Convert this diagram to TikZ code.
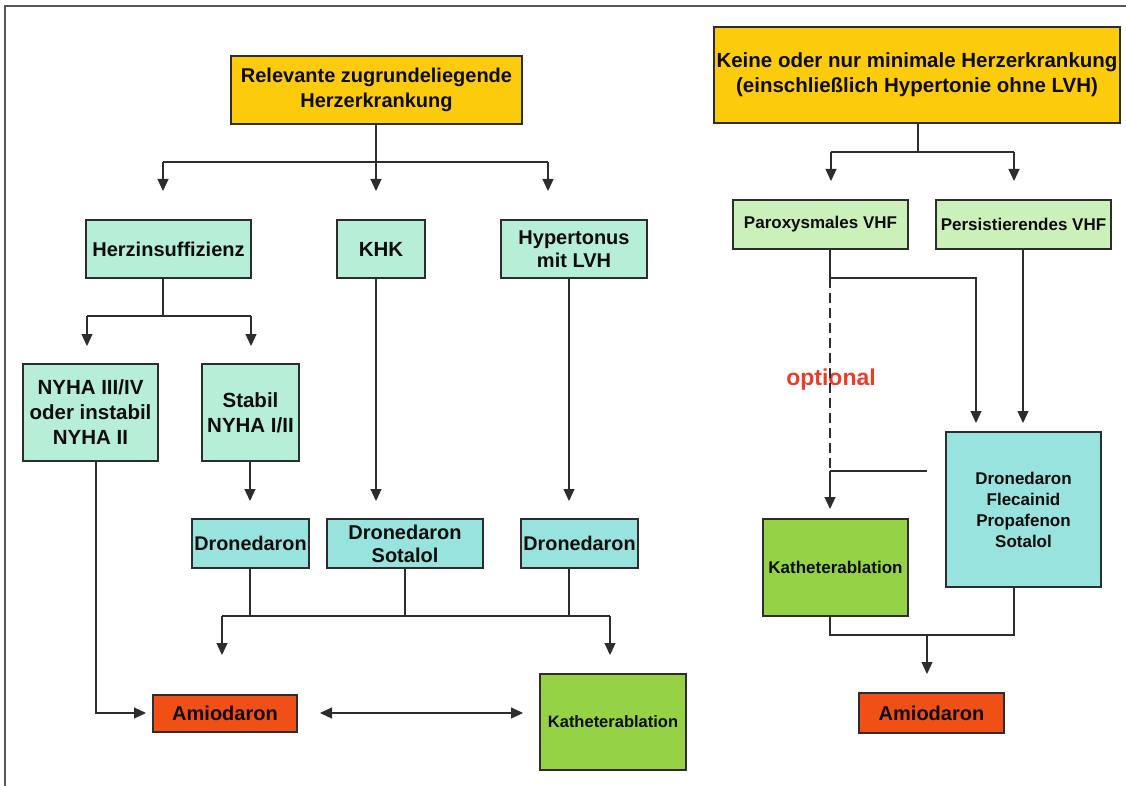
\documentclass[tikz,border=0pt]{standalone}
\usepackage{fontspec}
\setmainfont{Liberation Sans}
\usetikzlibrary{arrows.meta}
\definecolor{cYellow}{RGB}{252,204,12}
\definecolor{cMint}{RGB}{183,238,216}
\definecolor{cLGreen}{RGB}{204,240,186}
\definecolor{cTurq}{RGB}{152,227,222}
\definecolor{cGreen}{RGB}{150,210,70}
\definecolor{cOrange}{RGB}{240,80,22}
\definecolor{cRed}{RGB}{235,60,40}
\definecolor{cLine}{RGB}{45,45,45}
\newcommand{\fs}[2]{\fontsize{#1}{#2}\selectfont\bfseries}
\tikzset{
  box/.style={draw=cLine, line width=1.3pt, rectangle, inner sep=0pt, align=center, text=black!95},
  ln/.style={draw=cLine, line width=1.2pt},
  tip/.style={Triangle[width=11pt,length=12pt]},
  arr/.style={ln, -{Triangle[width=11pt,length=12pt]}},
  darr/.style={ln, {Triangle[width=11pt,length=12pt]}-{Triangle[width=11pt,length=12pt]}},
}
\begin{document}
\begin{tikzpicture}[x=1pt,y=-1pt]
\useasboundingbox (0,0) rectangle (1126,786);
\fill[white] (0,0) rectangle (1126,786);
% frame
\draw[cLine!80, line width=1.2pt] (5,786) -- (5,6) -- (1126,6);

% ---------- nodes ----------
\node[box, fill=cYellow, minimum width=291, minimum height=68, font=\fs{20}{25}] (top1) at (376.5,90) {Relevante zugrundeliegende\\Herzerkrankung};
\node[box, fill=cYellow, minimum width=406, minimum height=96, font=\fs{20.5}{25}] (top2) at (917,75) {Keine oder nur minimale Herzerkrankung\\(einschließlich Hypertonie ohne LVH)};

\node[box, fill=cMint, minimum width=165, minimum height=58, font=\fs{20}{24}] (herz) at (168.5,249) {Herzinsuffizienz};
\node[box, fill=cMint, minimum width=88, minimum height=58, font=\fs{20.5}{24}] (khk) at (381,249) {KHK};
\node[box, fill=cMint, minimum width=146, minimum height=58, font=\fs{20}{23}] (hyper) at (574,249) {Hypertonus\\mit LVH};

\node[box, fill=cMint, minimum width=135, minimum height=97, font=\fs{20.5}{25}] (nyha) at (90.5,412.5) {NYHA III/IV\\oder instabil\\NYHA II};
\node[box, fill=cMint, minimum width=97, minimum height=97, font=\fs{20.5}{25}] (stabil) at (250.5,412.5) {Stabil\\NYHA I/II};

\node[box, fill=cTurq, minimum width=117, minimum height=49, font=\fs{19.8}{23}] (dron1) at (250.5,543.5) {Dronedaron};
\node[box, fill=cTurq, minimum width=156, minimum height=49, font=\fs{20}{23}] (dronsot) at (405,543.5) {Dronedaron\\Sotalol};
\node[box, fill=cTurq, minimum width=117, minimum height=49, font=\fs{19.8}{23}] (dron2) at (579.5,543.5) {Dronedaron};

\node[box, fill=cOrange, minimum width=144, minimum height=37, font=\fs{20}{23}] (amio1) at (225,713.5) {Amiodaron};
\node[box, fill=cGreen, minimum width=146, minimum height=96, font=\fs{16.5}{20}] (kath1) at (613,722) {Katheterablation};

\node[box, fill=cLGreen, minimum width=175, minimum height=49, font=\fs{17}{20}] (parox) at (820.5,224.5) {Paroxysmales VHF};
\node[box, fill=cLGreen, minimum width=175, minimum height=49, font=\fs{17}{20}] (pers) at (1023.5,224.5) {Persistierendes VHF};

\node[box, fill=cTurq, minimum width=155, minimum height=155, font=\fs{17}{21}] (drugs) at (1023.5,509.5) {Dronedaron\\Flecainid\\Propafenon\\Sotalol};
\node[box, fill=cGreen, minimum width=145, minimum height=97, font=\fs{17}{20}] (kath2) at (835.5,567.5) {Katheterablation};
\node[box, fill=cOrange, minimum width=145, minimum height=40, font=\fs{20}{23}] (amio2) at (931.5,713) {Amiodaron};

\node[text=cRed, font=\fs{23}{26}, inner sep=0pt] (opt) at (831,380) {optional};

% ---------- coordinates ----------
\coordinate (j1) at (376,162);
\coordinate (j1l) at (163,162);
\coordinate (j1r) at (548,162);
\coordinate (a1l) at (163,191);
\coordinate (a1m) at (376,191);
\coordinate (a1r) at (548,191);

\coordinate (j2) at (163,316);
\coordinate (j2l) at (87,316);
\coordinate (j2r) at (251,316);
\coordinate (a2l) at (87,346);
\coordinate (a2r) at (251,346);

\coordinate (akhk) at (376,501);
\coordinate (ahyp) at (569,501);
\coordinate (astab) at (250,501);

\coordinate (nyc) at (96,713);
\coordinate (anyha) at (146,713);

\coordinate (j3l) at (222,616);
\coordinate (j3m) at (250,616);
\coordinate (j3r) at (610,616);
\coordinate (a3l) at (222,655);
\coordinate (a3r) at (610,655);

\coordinate (dal) at (320,713);
\coordinate (dar) at (523,713);

\coordinate (r1) at (918,152);
\coordinate (r1l) at (831,152);
\coordinate (r1r) at (1014,152);
\coordinate (ar1l) at (831,181);
\coordinate (ar1r) at (1014,181);

\coordinate (p1) at (830,278);
\coordinate (p1r) at (976,278);
\coordinate (ap1) at (976,423);
\coordinate (aper) at (1023,423);
\coordinate (p2) at (830,471);
\coordinate (p2r) at (927,471);
\coordinate (ap2) at (830,509);

\coordinate (k1) at (830,635);
\coordinate (k1m) at (927,635);
\coordinate (k1r) at (1014,635);
\coordinate (ak1) at (927,674);

% ---------- connectors left ----------
\draw[ln] (top1.south -| j1) -- (j1);
\draw[ln] (j1l) -- (j1r);
\draw[arr] (j1l) -- (a1l);
\draw[arr] (j1) -- (a1m);
\draw[arr] (j1r) -- (a1r);

\draw[ln] (herz.south -| j2) -- (j2);
\draw[ln] (j2l) -- (j2r);
\draw[arr] (j2l) -- (a2l);
\draw[arr] (j2r) -- (a2r);

\draw[arr] (khk.south -| akhk) -- (akhk);
\draw[arr] (hyper.south -| ahyp) -- (ahyp);
\draw[arr] (stabil.south -| astab) -- (astab);

\draw[arr] (nyha.south -| nyc) -- (nyc) -- (anyha);

\draw[ln] (dron1.south -| j3m) -- (j3m);
\draw[ln] (dronsot.south) -- (dronsot.south |- j3l);
\draw[ln] (dron2.south -| ahyp) -- (ahyp |- j3l);
\draw[ln] (j3l) -- (j3r);
\draw[arr] (j3l) -- (a3l);
\draw[arr] (j3r) -- (a3r);

\draw[darr] (dal) -- (dar);

% ---------- connectors right ----------
\draw[ln] (top2.south -| r1) -- (r1);
\draw[ln] (r1l) -- (r1r);
\draw[arr] (r1l) -- (ar1l);
\draw[arr] (r1r) -- (ar1r);

\draw[ln] (parox.south -| p1) -- (p1);
\draw[arr] (p1) -- (p1r) -- (ap1);
\draw[arr] (pers.south -| aper) -- (aper);
\draw[ln, dash pattern=on 10pt off 5pt] (p1) -- (p2);
\draw[ln] (p2) -- (p2r);
\draw[arr] (p2) -- (ap2);

\draw[ln] (kath2.south -| k1) -- (k1) -- (k1r) -- (drugs.south -| k1r);
\draw[arr] (k1m) -- (ak1);
\end{tikzpicture}
\end{document}
